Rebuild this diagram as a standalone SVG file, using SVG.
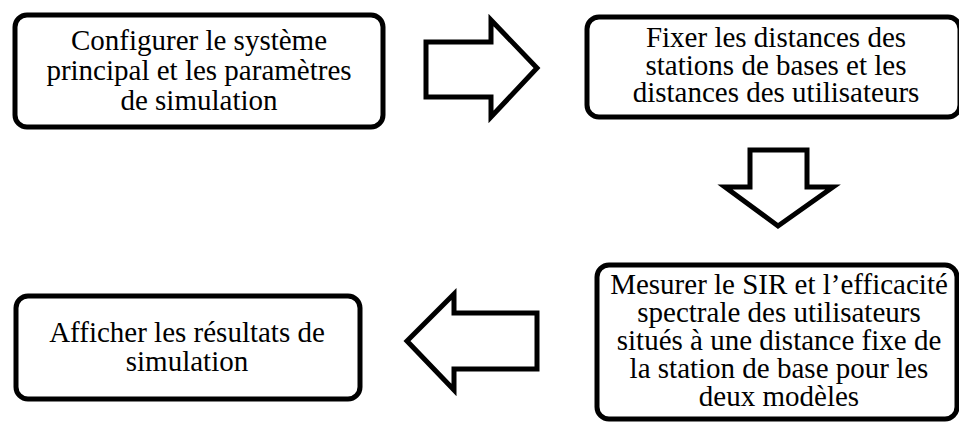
<svg xmlns="http://www.w3.org/2000/svg" width="959" height="424" viewBox="0 0 959 424">
  <style>
    .box { fill: #ffffff; stroke: #000000; stroke-width: 5; }
    .arrow { fill: #ffffff; stroke: #000000; stroke-width: 5; stroke-linejoin: miter; }
    .label { font-size: 29px; fill: #000000; text-anchor: middle; }
  </style>
  <rect x="0" y="0" width="959" height="424" fill="#ffffff"/>

  <g id="node-configurer" font-family="'Times New Roman', 'Liberation Serif', 'DejaVu Serif', serif">
    <rect class="box" x="15" y="15" width="368" height="112" rx="12" ry="12"/>
    <text class="label" x="199" y="50">Configurer le système</text>
    <text class="label" x="199" y="80">principal et les paramètres</text>
    <text class="label" x="199" y="110">de simulation</text>
  </g>

  <g id="node-fixer" font-family="'Times New Roman', 'Liberation Serif', 'DejaVu Serif', serif">
    <rect class="box" x="587" y="17" width="373" height="100" rx="12" ry="12"/>
    <text class="label" x="776" y="47">Fixer les distances des</text>
    <text class="label" x="776" y="75">stations de bases et les</text>
    <text class="label" x="776" y="102">distances des utilisateurs</text>
  </g>

  <g id="node-mesurer" font-family="'Times New Roman', 'Liberation Serif', 'DejaVu Serif', serif">
    <rect class="box" x="597" y="265" width="360" height="154" rx="12" ry="12"/>
    <text class="label" x="779" y="294">Mesurer le SIR et l’efficacité</text>
    <text class="label" x="779" y="322">spectrale des utilisateurs</text>
    <text class="label" x="779" y="350">situés à une distance fixe de</text>
    <text class="label" x="779" y="378">la station de base pour les</text>
    <text class="label" x="779" y="406">deux modèles</text>
  </g>

  <g id="node-afficher" font-family="'Times New Roman', 'Liberation Serif', 'DejaVu Serif', serif">
    <rect class="box" x="16" y="296" width="344" height="103" rx="12" ry="12"/>
    <text class="label" x="187" y="342">Afficher les résultats de</text>
    <text class="label" x="187" y="371">simulation</text>
  </g>

  <g id="connectors">
    <polygon class="arrow" points="426,42 491,42 491,20 537,68 491,117 491,97 426,97"/>
    <polygon class="arrow" points="750,150 807,150 807,187 833,187 778,226 725,187 750,187"/>
    <polygon class="arrow" points="537,313 454,313 454,294 407,341 454,390 454,369 537,369"/>
  </g>
</svg>
